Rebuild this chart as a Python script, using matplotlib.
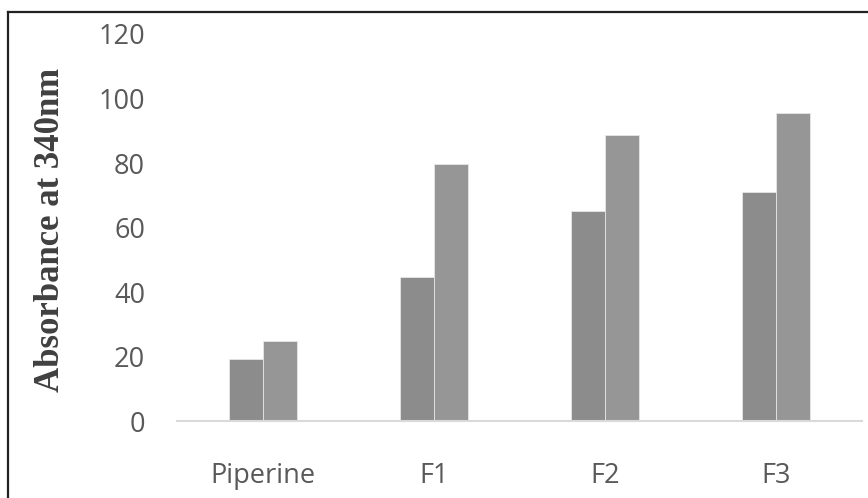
import matplotlib
matplotlib.use("Agg")
import matplotlib.pyplot as plt
from matplotlib.lines import Line2D
import numpy as np

categories = ["Piperine", "F1", "F2", "F3"]
series_a = [19.2, 44.8, 65.2, 71.0]
series_b = [25.0, 79.8, 88.6, 95.6]
yticks = [0, 20, 40, 60, 80, 100, 120]

W, H = 868, 498
fig = plt.figure(figsize=(W / 100, H / 100), dpi=100)
ax = fig.add_axes([177 / W, 1 - 421.3 / H, (862 - 177) / W, (421.3 - 34) / H])

x = np.arange(len(categories))
bw = 0.198
ax.bar(x - bw / 2, series_a, width=bw, color="#8c8c8c", edgecolor="#e6e6e6", linewidth=0.6)
ax.bar(x + bw / 2, series_b, width=bw, color="#969696", edgecolor="#e6e6e6", linewidth=0.6)

ax.set_xlim(-0.5, len(categories) - 0.5)
ax.set_ylim(0, 120)
ax.set_yticks(yticks)
ax.set_xticks(x)
ax.set_xticklabels(categories)

for side in ["top", "right", "left"]:
    ax.spines[side].set_visible(False)
ax.spines["bottom"].set_color("#d9d9d9")
ax.spines["bottom"].set_linewidth(1.5)
ax.tick_params(axis="both", length=0, colors="#595959", labelsize=19.5)
ax.tick_params(axis="y", pad=23)
ax.tick_params(axis="x", pad=29)
for lbl in ax.get_xticklabels() + ax.get_yticklabels():
    lbl.set_fontfamily("Open Sans")

fig.text(51 / W, 1 - 230 / H, "Absorbance at 340nm", rotation=90, ha="center", va="center",
         fontsize=25, fontweight="bold", family="Liberation Serif", color="#404040")

# outer frame: top and left edges
fig.add_artist(Line2D([7.5 / W, 1.0], [1 - 12.5 / H, 1 - 12.5 / H], color="#222222", lw=1.6,
                      transform=fig.transFigure))
fig.add_artist(Line2D([7.5 / W, 7.5 / W], [0, 1 - 12.5 / H], color="#222222", lw=1.6,
                      transform=fig.transFigure))

fig.savefig("out.png", dpi=100)
